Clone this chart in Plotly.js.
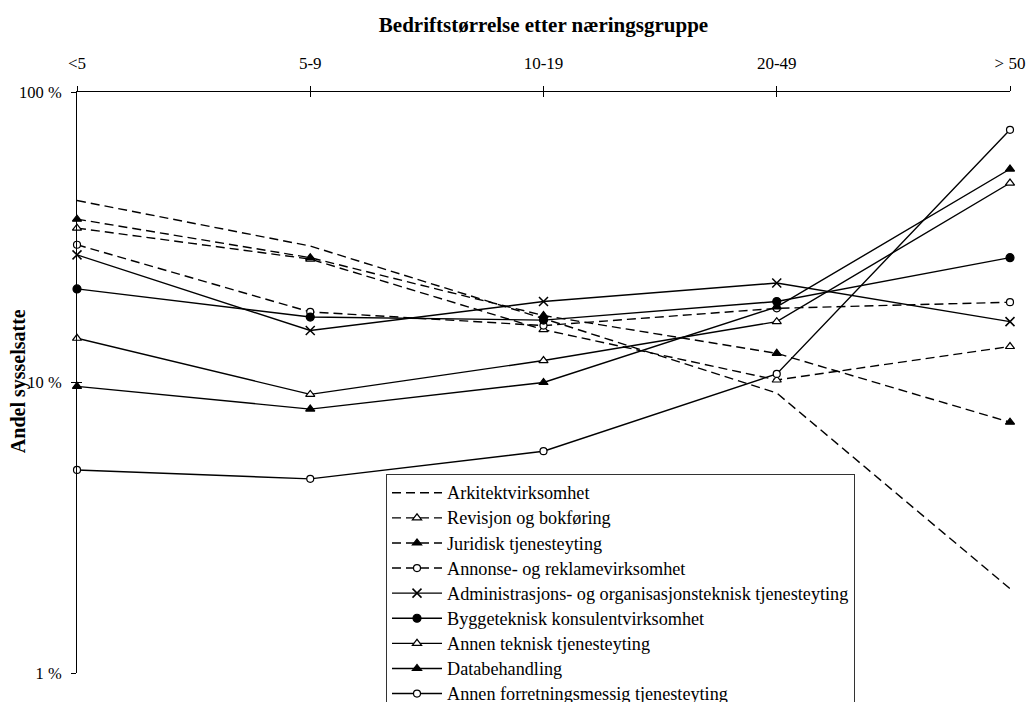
<!DOCTYPE html>
<html>
<head>
<meta charset="utf-8">
<script src="https://cdn.plot.ly/plotly-3.0.1.min.js"></script>
<style>html,body{margin:0;padding:0;background:#fff;}#chart{width:1030px;height:702px;}</style>
</head>
<body>
<div id="chart"></div>
<script>
const categories = ['<5', '5-9', '10-19', '20-49', '> 50'];
const seriesNames = [
  'Arkitektvirksomhet',
  'Revisjon og bokføring',
  'Juridisk tjenesteyting',
  'Annonse- og reklamevirksomhet',
  'Administrasjons- og organisasjonsteknisk tjenesteyting',
  'Byggeteknisk konsulentvirksomhet',
  'Annen teknisk tjenesteyting',
  'Databehandling',
  'Annen forretningsmessig tjenesteyting'
];
const arkitekt        = [42.3, 29.5, 16.6, 9.2, 1.95];
const revisjon        = [34.0, 26.6, 15.2, 10.2, 13.3];
const juridisk        = [36.5, 26.9, 17.0, 12.6, 7.3];
const annonse         = [29.8, 17.5, 15.7, 18.0, 18.9];
const administrasjon  = [27.5, 15.1, 19.0, 22.0, 16.2];
const byggeteknisk    = [21.0, 16.8, 16.4, 19.0, 26.9];
const annenTeknisk    = [14.2, 9.1, 11.9, 16.2, 48.6];
const databehandling  = [9.7, 8.1, 10.0, 18.2, 54.3];
const annenForretning = [5.0, 4.66, 5.8, 10.7, 74.1];
const yTickVals = [1, 10, 100];
const yTickText = ['1 %', '10 %', '100 %'];

const FONT = 'Liberation Serif, Times New Roman, serif';
const values = [arkitekt, revisjon, juridisk, annonse, administrasjon, byggeteknisk, annenTeknisk, databehandling, annenForretning];
const styles = [
  {dash: '9px,5px', mode: 'lines'},
  {dash: '9px,5px', mode: 'lines+markers', symbol: 'triangle-up', fill: '#fff', size: 8},
  {dash: '9px,5px', mode: 'lines+markers', symbol: 'triangle-up', fill: '#000', size: 8},
  {dash: '9px,5px', mode: 'lines+markers', symbol: 'circle', fill: '#fff', size: 7},
  {dash: 'solid', mode: 'lines+markers', symbol: 'x-thin-open', fill: '#000', size: 9},
  {dash: 'solid', mode: 'lines+markers', symbol: 'circle', fill: '#000', size: 8},
  {dash: 'solid', mode: 'lines+markers', symbol: 'triangle-up', fill: '#fff', size: 8},
  {dash: 'solid', mode: 'lines+markers', symbol: 'triangle-up', fill: '#000', size: 8},
  {dash: 'solid', mode: 'lines+markers', symbol: 'circle', fill: '#fff', size: 7}
];

const traces = values.map((v, i) => {
  const s = styles[i];
  const t = {
    type: 'scatter',
    x: categories,
    y: v,
    name: '<span style="font-size:18.2px">' + seriesNames[i] + '</span>',
    mode: s.mode,
    cliponaxis: false,
    line: {color: '#000', width: 1.4, dash: s.dash},
    hoverinfo: 'x+y'
  };
  if (s.symbol) {
    t.marker = {symbol: s.symbol, size: s.size, color: s.fill,
      line: {color: '#000', width: s.symbol === 'x-thin-open' ? 1.5 : 1.2}};
  }
  return t;
});

// helper trace on overlay axes for crossing tick marks
traces.push({type: 'scatter', x: categories, y: categories.map(() => null), xaxis: 'x2', yaxis: 'y2',
  mode: 'none', showlegend: false, hoverinfo: 'skip'});

const layout = {
  width: 1030, height: 702,
  paper_bgcolor: '#fff', plot_bgcolor: '#fff',
  margin: {l: 77, r: 20, t: 92, b: 29, pad: 0, autoexpand: false},
  font: {family: FONT, size: 17, color: '#000'},
  showlegend: true,
  title: {text: 'Bedriftstørrelse etter næringsgruppe', x: 0.5, xanchor: 'center', xref: 'paper',
          y: 1 - 25 / 702, yanchor: 'middle', yref: 'container',
          font: {family: FONT, size: 21, color: '#000', weight: 'bold'}},
  xaxis: {type: 'category', categoryorder: 'array', categoryarray: categories,
          side: 'top', range: [0, 4], showgrid: false, zeroline: false,
          showline: true, linecolor: '#000', linewidth: 1,
          ticks: 'outside', ticklen: 5, tickcolor: '#000', tickwidth: 1,
          ticklabelstandoff: 10, automargin: false,
          tickfont: {family: FONT, size: 17, color: '#000'}},
  yaxis: {type: 'log', range: [0, 2], showgrid: false, zeroline: false,
          showline: true, linecolor: '#000', linewidth: 1,
          tickvals: yTickVals, ticktext: yTickText,
          ticks: 'outside', ticklen: 5, tickcolor: '#000', tickwidth: 1,
          ticklabelstandoff: 6, automargin: false,
          tickfont: {family: FONT, size: 16.5, color: '#000'}},
  xaxis2: {type: 'category', categoryorder: 'array', categoryarray: categories,
           overlaying: 'x', side: 'top', range: [0, 4], showgrid: false, zeroline: false,
           showline: false, showticklabels: false, ticks: 'inside', ticklen: 5,
           tickcolor: '#000', tickwidth: 1, anchor: 'y2'},
  yaxis2: {type: 'log', range: [0, 2], overlaying: 'y', side: 'left', showgrid: false, zeroline: false,
           showline: false, showticklabels: false, tickvals: yTickVals, ticks: 'inside', ticklen: 5,
           tickcolor: '#000', tickwidth: 1, anchor: 'x2'},
  legend: {x: (386 - 77) / 933, xanchor: 'left', xref: 'paper',
           y: (672.7 - 474) / 580.7, yanchor: 'top', yref: 'paper',
           bgcolor: '#fff', bordercolor: '#333', borderwidth: 1,
           font: {family: FONT, size: 17, color: '#000'},
           itemwidth: 50, tracegroupgap: 0, traceorder: 'normal'},
  annotations: [{
    text: '<b>Andel sysselsatte</b>', textangle: -90,
    xref: 'paper', yref: 'paper', x: (18 - 77) / 933, y: (672.7 - 381) / 580.7,
    xanchor: 'center', yanchor: 'middle', showarrow: false,
    font: {family: FONT, size: 20, color: '#000'}
  }]
};

Plotly.newPlot('chart', traces, layout, {displayModeBar: false, staticPlot: true});
</script>
</body>
</html>
